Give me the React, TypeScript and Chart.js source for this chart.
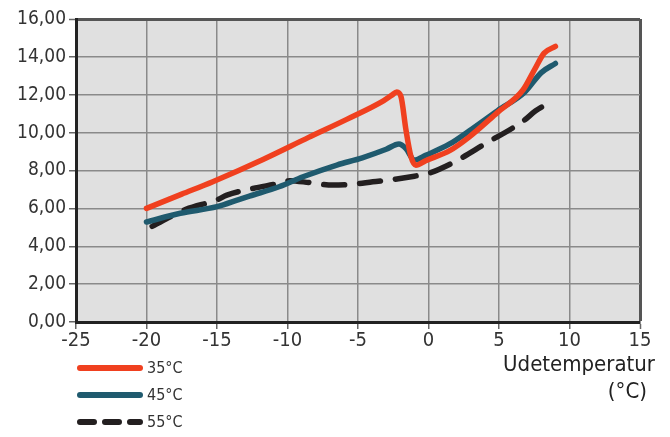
import React, { useEffect, useRef } from "react";
import { Chart, registerables } from "chart.js";

Chart.register(...registerables);

const FONT = "'DejaVu Sans Condensed', 'DejaVu Sans', sans-serif";

const seriesLabels = ["35°C", "45°C", "55°C"];
const seriesColors = ["#f0401f", "#1f5a6e", "#231f20"];

const x35 = [-20, -17.5, -15.3, -11.7, -8.5, -5.8, -3.2, -2.6, -2.25, -1.95, -1.6, -1.25, -0.9, -0.2, 1.5, 2.9, 4.9, 6.7, 7.5, 8.2, 9.0];
const y35 = [6.0, 6.75, 7.41, 8.6, 9.75, 10.7, 11.68, 11.98, 12.15, 11.9, 10.15, 8.75, 8.28, 8.52, 9.05, 9.78, 11.07, 12.25, 13.3, 14.2, 14.55];

const x45 = [-20, -17.6, -15, -13.4, -12.7, -10.6, -8.9, -6.5, -4.7, -3, -2.1, -1.6, -1.0, -0.2, 1.5, 2.9, 4.9, 6.8, 8.0, 9.0];
const y45 = [5.28, 5.74, 6.09, 6.48, 6.65, 7.14, 7.67, 8.29, 8.67, 9.12, 9.4, 9.16, 8.55, 8.8, 9.4, 10.1, 11.16, 12.12, 13.17, 13.65];

const x55 = [-19.6, -17.2, -15.0, -14.3, -12.45, -10.6, -9.85, -8.43, -6.78, -5.13, -3.95, -2.77, -1.0, 0, 1.7, 4.0, 6.7, 7.6, 8.9];
const y55 = [5.05, 5.95, 6.45, 6.7, 7.05, 7.32, 7.46, 7.36, 7.23, 7.29, 7.41, 7.5, 7.7, 7.85, 8.4, 9.4, 10.6, 11.15, 11.72];

const xTitle = ["Udetemperatur", "(°C)"];

const toPoints = (xs: number[], ys: number[]) => xs.map((x, i) => ({ x, y: ys[i] }));

const extrasPlugin = {
  id: "extras",
  beforeDraw(chart: any) {
    const { ctx, chartArea } = chart;
    ctx.save();
    ctx.fillStyle = "#e0e0e0";
    ctx.fillRect(chartArea.left, chartArea.top, chartArea.right - chartArea.left, chartArea.bottom - chartArea.top);
    ctx.restore();
  },
  afterDraw(chart: any) {
    const { ctx } = chart;
    ctx.save();
    // legend
    chart.data.datasets.forEach((ds: any, i: number) => {
      const y = 368 + i * 27;
      ctx.beginPath();
      ctx.lineWidth = 6;
      ctx.lineCap = "round";
      ctx.strokeStyle = ds.borderColor;
      ctx.setLineDash(ds.borderDash && ds.borderDash.length ? [14, 11] : []);
      ctx.moveTo(80, y);
      ctx.lineTo(140, y);
      ctx.stroke();
      ctx.setLineDash([]);
      ctx.fillStyle = "#333";
      ctx.font = `16px ${FONT}`;
      ctx.textAlign = "left";
      ctx.textBaseline = "middle";
      ctx.fillText(ds.label, 147, y + 1);
    });
    // x axis title
    ctx.fillStyle = "#222";
    ctx.font = `22px ${FONT}`;
    ctx.textAlign = "right";
    ctx.textBaseline = "alphabetic";
    ctx.fillText(xTitle[0], 655, 371);
    ctx.fillText(xTitle[1], 647, 398);
    ctx.restore();
  },
};

export default function App() {
  const ref = useRef<HTMLCanvasElement>(null);
  useEffect(() => {
    document.body.style.margin = "0";
    const xs = [x35, x45, x55];
    const ys = [y35, y45, y55];
    const chart = new Chart(ref.current!, {
      type: "line",
      data: {
        datasets: seriesLabels.map((label, i) => ({
          label,
          data: toPoints(xs[i], ys[i]),
          borderColor: seriesColors[i],
          backgroundColor: seriesColors[i],
          borderWidth: 5.5,
          borderCapStyle: "round",
          borderJoinStyle: "round",
          borderDash: i === 2 ? [21, 15] : [],
          pointRadius: 0,
          cubicInterpolationMode: "monotone",
          fill: false,
        })) as any,
      },
      options: {
        animation: false,
        responsive: false,
        layout: { padding: { top: 19, right: 30, left: 0, bottom: 0 } },
        plugins: { legend: { display: false }, tooltip: { enabled: false } },
        scales: {
          x: {
            type: "linear",
            min: -25,
            max: 15,
            afterFit: (s: any) => { s.height = 115; },
            ticks: {
              stepSize: 5,
              padding: 0,
              color: "#333",
              font: { family: FONT, size: 20 },
              maxRotation: 0,
            },
            grid: {
              color: (c: any) => (c.tick && c.tick.value === 15 ? "#555" : "#8a8a8a"),
              lineWidth: (c: any) => (c.tick && c.tick.value === 15 ? 3 : 1.5),
              tickColor: "#666",
              tickWidth: 1.5,
              tickLength: 7,
            },
            border: { color: "#222", width: 3 },
          },
          y: {
            min: 0,
            max: 16,
            afterFit: (s: any) => { s.width = 76; },
            ticks: {
              stepSize: 2,
              padding: 3,
              color: "#333",
              font: { family: FONT, size: 19 },
              callback: (v: any) => Number(v).toFixed(2).replace(".", ","),
            },
            grid: {
              color: (c: any) => (c.tick && c.tick.value === 16 ? "#555" : "#8a8a8a"),
              lineWidth: (c: any) => (c.tick && c.tick.value === 16 ? 3 : 1.5),
              tickColor: "#666",
              tickWidth: 1.5,
              tickLength: 7,
            },
            border: { color: "#222", width: 3 },
          },
        },
      },
      plugins: [extrasPlugin],
    });
    return () => chart.destroy();
  }, []);
  return (
    <div style={{ width: 670, height: 437 }}>
      <canvas ref={ref} width={670} height={437} />
    </div>
  );
}
